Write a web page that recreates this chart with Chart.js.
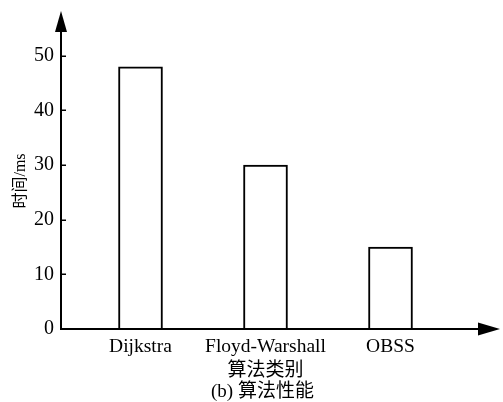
<!DOCTYPE html>
<html>
<head>
<meta charset="utf-8">
<script src="https://cdn.jsdelivr.net/npm/chart.js@4.4.1/dist/chart.umd.min.js"></script>
<style>
  html, body { margin: 0; padding: 0; background: #fff; }
  #wrap { width: 503px; height: 402px; position: relative; }
</style>
</head>
<body>
<div id="wrap"><canvas id="c" width="503" height="402"></canvas></div>
<script>
// Algorithm run times (ms)
const categories = ['Dijkstra', 'Floyd-Warshall', 'OBSS'];
const timeMs = [48, 30, 15];
const yTickValues = [0, 10, 20, 30, 40, 50];
const xTitle = '算法类别';
const caption = '(b) 算法性能';
const yTitle = '时间/ms';

const SERIF = '"Liberation Serif", "Times New Roman", "Noto Sans CJK SC", serif';
const CJK = '"Liberation Serif", "Noto Sans CJK SC", serif';

// Axes with arrowheads, inward tick marks and the axis/caption texts
const axesPlugin = {
  id: 'arrowAxes',
  afterDatasetsDraw(chart) {
    const { ctx, chartArea, scales } = chart;
    const x0 = chartArea.left, y0 = chartArea.bottom;
    ctx.save();
    ctx.strokeStyle = '#000';
    ctx.fillStyle = '#000';
    ctx.lineWidth = 2;
    // y axis
    ctx.beginPath();
    ctx.moveTo(x0, y0 + 1);
    ctx.lineTo(x0, chartArea.top + 18);
    ctx.stroke();
    ctx.beginPath();
    ctx.moveTo(x0, chartArea.top);
    ctx.lineTo(x0 - 6, chartArea.top + 21);
    ctx.lineTo(x0 + 6, chartArea.top + 21);
    ctx.closePath();
    ctx.fill();
    // x axis
    ctx.beginPath();
    ctx.moveTo(x0 - 1, y0);
    ctx.lineTo(chartArea.right - 18, y0);
    ctx.stroke();
    ctx.beginPath();
    ctx.moveTo(chartArea.right, y0);
    ctx.lineTo(chartArea.right - 22, y0 - 6.5);
    ctx.lineTo(chartArea.right - 22, y0 + 6.5);
    ctx.closePath();
    ctx.fill();
    // inward tick marks on y
    ctx.lineWidth = 1.5;
    yTickValues.forEach(v => {
      if (v === 0) return;
      const py = Math.round(scales.y.getPixelForValue(v)) + 0.25;
      ctx.beginPath();
      ctx.moveTo(x0, py);
      ctx.lineTo(x0 + 5, py);
      ctx.stroke();
    });
    // titles
    ctx.textAlign = 'center';
    ctx.textBaseline = 'middle';
    ctx.font = '19px ' + CJK;
    ctx.fillText(xTitle, 265.5, 371.5);
    ctx.fillText(caption, 262.5, 392);
    ctx.translate(21, 181);
    ctx.rotate(-Math.PI / 2);
    ctx.font = '16px ' + CJK;
    ctx.fillText(yTitle, 0, 0);
    ctx.restore();
  }
};

new Chart(document.getElementById('c'), {
  type: 'bar',
  data: {
    datasets: [{
      data: timeMs.map((v, i) => ({ x: i, y: v })),
      backgroundColor: '#fff',
      borderColor: '#000',
      borderWidth: 2,
      barThickness: 44
    }]
  },
  plugins: [axesPlugin],
  options: {
    responsive: false,
    animation: false,
    devicePixelRatio: 1,
    layout: { padding: { top: 11, right: 3, left: 0, bottom: 0 } },
    plugins: { legend: { display: false }, tooltip: { enabled: false } },
    scales: {
      x: {
        type: 'linear',
        offset: false,
        min: -0.636,
        max: 2.876,
        grid: { display: false, drawTicks: false, offset: false },
        border: { display: false },
        afterBuildTicks: s => { s.ticks = categories.map((c, i) => ({ value: i })); },
        afterFit: s => { s.height = 73; s.paddingLeft = 0; s.paddingRight = 0; },
        ticks: {
          autoSkip: false,
          maxRotation: 0,
          padding: 6,
          color: '#000',
          font: { family: SERIF, size: 19.5 },
          callback: (v, i) => categories[i]
        }
      },
      y: {
        min: 0,
        max: 58.2,
        grid: { display: false, drawTicks: false },
        border: { display: false },
        afterBuildTicks: s => { s.ticks = yTickValues.map(v => ({ value: v })); },
        afterFit: s => { s.width = 61; s.paddingTop = 0; s.paddingBottom = 0; },
        ticks: {
          padding: 7,
          color: '#000',
          font: { family: SERIF, size: 20 }
        }
      }
    }
  }
});
</script>
</body>
</html>
